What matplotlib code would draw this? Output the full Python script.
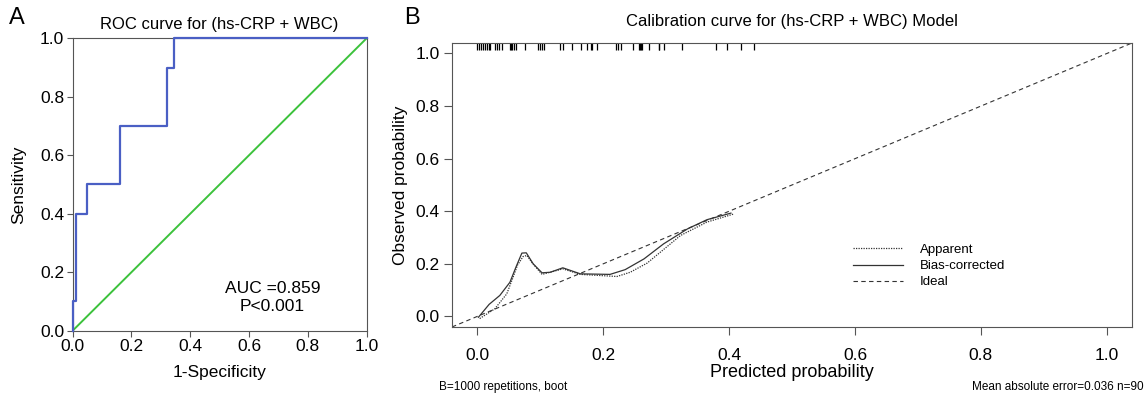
import matplotlib
matplotlib.use('Agg')
import matplotlib.pyplot as plt
import numpy as np

plt.rcParams['font.family'] = ['Liberation Sans', 'DejaVu Sans']

# ROC curve for (hs-CRP + WBC)
roc_fpr = [0.0, 0.0, 0.0125, 0.0125, 0.05, 0.05, 0.1625, 0.1625, 0.32, 0.32, 0.345, 0.345, 1.0]
roc_tpr = [0.0, 0.1, 0.1, 0.4, 0.4, 0.5, 0.5, 0.7, 0.7, 0.9, 0.9, 1.0, 1.0]
auc_text = 'AUC =0.859\nP<0.001'

# calibration curves
bias_x = [0.002, 0.019, 0.036, 0.052, 0.062, 0.071, 0.078, 0.089, 0.103, 0.116, 0.136,
          0.164, 0.211, 0.235, 0.265, 0.296, 0.334, 0.365, 0.403]
bias_y = [-0.003, 0.046, 0.080, 0.130, 0.190, 0.241, 0.242, 0.200, 0.166, 0.168, 0.185,
          0.162, 0.160, 0.178, 0.219, 0.276, 0.333, 0.368, 0.393]
app_x = [0.004, 0.028, 0.047, 0.057, 0.064, 0.073, 0.079, 0.087, 0.103, 0.136, 0.164,
         0.222, 0.243, 0.270, 0.323, 0.365, 0.408]
app_y = [-0.008, 0.029, 0.086, 0.149, 0.195, 0.228, 0.232, 0.205, 0.160, 0.181, 0.160,
         0.152, 0.168, 0.203, 0.308, 0.359, 0.390]
rug = [0.0, 0.003, 0.006, 0.009, 0.012, 0.015, 0.018, 0.020, 0.029, 0.031, 0.034, 0.039,
       0.052, 0.053, 0.055, 0.059, 0.062, 0.076, 0.097, 0.099, 0.103, 0.106, 0.132, 0.137,
       0.150, 0.165, 0.175, 0.180, 0.183, 0.190, 0.221, 0.223, 0.229, 0.248, 0.257, 0.258,
       0.260, 0.262, 0.273, 0.288, 0.289, 0.296, 0.325, 0.380, 0.397, 0.419, 0.439]
ticks = [0.0, 0.2, 0.4, 0.6, 0.8, 1.0]

fig = plt.figure(figsize=(11.46, 3.95), dpi=100)
edge = '#555555'

# ---- panel A
ax1 = fig.add_axes([0.0634, 0.1628, 0.2565, 0.7403])
ax1.plot([0, 1], [0, 1], color='#3cc23c', lw=1.4)
ax1.plot(roc_fpr, roc_tpr, color='#4a5fc4', lw=1.6, clip_on=False, zorder=5)
ax1.set_xlim(0, 1)
ax1.set_ylim(0, 1)
ax1.set_xticks(ticks)
ax1.set_yticks(ticks)
ax1.set_xticklabels(['%.1f' % t for t in ticks])
ax1.set_yticklabels(['%.1f' % t for t in ticks])
ax1.tick_params(labelsize=12.5, length=4, color=edge, pad=2)
for s in ax1.spines.values():
    s.set_color(edge)
ax1.set_xlabel('1-Specificity', fontsize=12.5, labelpad=8)
ax1.set_ylabel('Sensitivity', fontsize=12.5, labelpad=10)
ax1.set_title('ROC curve for (hs-CRP + WBC)', fontsize=12, pad=7)
ax1.text(0.68, 0.115, auc_text, fontsize=12.5, ha='center', va='center',
         linespacing=1.25)
fig.text(0.008, 0.94, 'A', fontsize=17)

# ---- panel B
ax2 = fig.add_axes([0.3944, 0.1722, 0.5934, 0.719])
ax2.plot(app_x, app_y, color='#333333', lw=0.9, ls=(0, (1, 1)), label='Apparent')
ax2.plot(bias_x, bias_y, color='#333333', lw=0.9, label='Bias-corrected')
ax2.plot([-0.04, 1.04], [-0.04, 1.04], color='#333333', lw=0.8, ls=(0, (4, 3)),
         label='Ideal')
ax2.vlines(rug, 0.977, 1.0, color='black', lw=0.9, transform=ax2.get_xaxis_transform())
ax2.set_xlim(-0.04, 1.04)
ax2.set_ylim(-0.04, 1.04)
ax2.set_xticks(ticks)
ax2.set_yticks(ticks)
ax2.set_xticklabels(['%.1f' % t for t in ticks])
ax2.set_yticklabels(['%.1f' % t for t in ticks])
ax2.tick_params(labelsize=12.5, length=6, color=edge, pad=3)
ax2.tick_params(axis='x', pad=9)
for s in ax2.spines.values():
    s.set_color(edge)
ax2.set_xlabel('Predicted probability', fontsize=13, labelpad=1)
ax2.set_ylabel('Observed probability', fontsize=12.5, labelpad=5)
ax2.set_title('Calibration curve for (hs-CRP + WBC) Model', fontsize=12, pad=12)
ax2.legend(loc='upper left', bbox_to_anchor=(0.572, 0.335), frameon=False, fontsize=9.5,
           handlelength=3.8, handletextpad=1.3, labelspacing=0.3)
fig.text(0.3835, 0.012, 'B=1000 repetitions, boot', fontsize=8.5)
fig.text(0.998, 0.012, 'Mean absolute error=0.036 n=90', fontsize=8.5, ha='right')
fig.text(0.353, 0.94, 'B', fontsize=17)

fig.savefig('out.png', dpi=100)
